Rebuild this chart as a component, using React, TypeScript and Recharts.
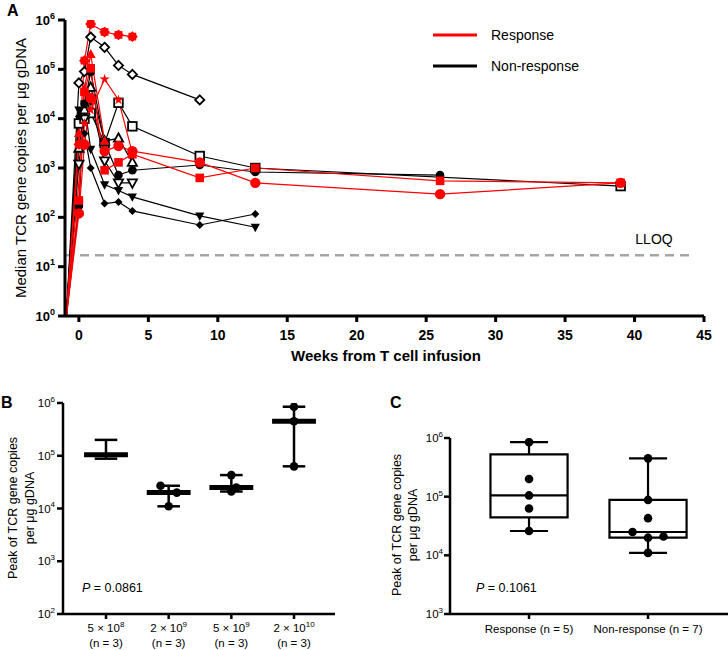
import React from 'react';
import {
  LineChart,
  Line,
  XAxis,
  YAxis,
  ReferenceLine,
  ReferenceArea,
  ScatterChart,
  Scatter,
} from 'recharts';

// ---- Panel A: median TCR copies over time ----
const weeks = [-0.9, 0, 0.4, 0.85, 1.85, 2.85, 3.85, 8.7, 12.7, 26, 39];

const respOctagon = [1, 3000, 150000, 830000, 570000, 500000, 460000, null, null, null, null];
const respTriangle = [1, 5000, 40000, 200000, 3500, null, null, null, null, null, null];
const respSquare = [1, 220, 35000, 105000, 900, 1300, 1900, 630, 1000, 550, 500];
const respStar = [1, null, 8000, 15000, 63000, 24000, 2000, null, null, null, null];
const respCircle = [1, 120, 3000, 26000, 2200, 2800, 2200, 1300, 500, 295, 500];

const nonDiamondOpen = [1, 53000, 90000, 450000, 280000, 120000, 79000, 24000, null, null, null];
const nonSquareOpen = [1, 8000, 10000, 13000, 3200, 21000, 7000, 1750, 1000, null, 430];
const nonCircle = [1, 170, 20000, 88000, 3200, 720, 900, 1150, 830, 720, null];
const nonTriUpOpen = [1, 2500, 15000, 43000, 3500, 4000, 1300, null, null, null, null];
const nonTriDownOpen = [1, 1200, 10000, 25000, 1400, 500, 500, null, null, null, null];
const nonTriDown = [1, 15000, 20000, 2400, 460, 350, 260, 107, 63, null, null];
const nonDiamond = [1, 11000, 5000, 1000, 190, 205, 135, 70, 117, null, null];

const weekTicks = [0, 5, 10, 15, 20, 25, 30, 35, 40, 45];
const logTicksA = [1, 10, 100, 1000, 10000, 100000, 1000000];
const lloq = 17;

// ---- Panel B: peak by dose ----
const doseCoefs = ['5', '2', '5', '2'];
const doseExps = ['8', '9', '9', '10'];
const doseN = [3, 3, 3, 3];
const dosePeaks = [
  [200000, 105000, 88000],
  [27000, 20000, 11000],
  [43000, 25000, 21000],
  [850000, 450000, 63000],
];
const logTicksB = [100, 1000, 10000, 100000, 1000000];

// ---- Panel C: peak by response ----
const responseGroups = ['Response (n = 5)', 'Non-response (n = 7)'];
const responsePeaks = [
  [850000, 200000, 105000, 63000, 26000],
  [450000, 88000, 43000, 25000, 21000, 20000, 11000],
];
const logTicksC = [1000, 10000, 100000, 1000000];

const RED = '#ff0000';
const FONT = "'Liberation Sans', Arial, Helvetica, sans-serif";

const seriesA = [
  { key: 'nonDiamondOpen', values: nonDiamondOpen, color: '#000', marker: 'diamondOpen' },
  { key: 'nonSquareOpen', values: nonSquareOpen, color: '#000', marker: 'squareOpen' },
  { key: 'nonCircle', values: nonCircle, color: '#000', marker: 'circle' },
  { key: 'nonTriUpOpen', values: nonTriUpOpen, color: '#000', marker: 'triUpOpen' },
  { key: 'nonTriDownOpen', values: nonTriDownOpen, color: '#000', marker: 'triDownOpen' },
  { key: 'nonTriDown', values: nonTriDown, color: '#000', marker: 'triDown' },
  { key: 'nonDiamond', values: nonDiamond, color: '#000', marker: 'diamond' },
  { key: 'respOctagon', values: respOctagon, color: RED, marker: 'octagon' },
  { key: 'respTriangle', values: respTriangle, color: RED, marker: 'triUp' },
  { key: 'respSquare', values: respSquare, color: RED, marker: 'square' },
  { key: 'respStar', values: respStar, color: RED, marker: 'star' },
  { key: 'respCircle', values: respCircle, color: RED, marker: 'bigCircle' },
];

const rowsA = weeks.map((w, i) => {
  const row: any = { week: w };
  seriesA.forEach((s) => {
    row[s.key] = s.values[i];
  });
  return row;
});

const starPoints = (cx: number, cy: number, n: number, ro: number, ri: number) => {
  const pts: string[] = [];
  for (let i = 0; i < n * 2; i++) {
    const r = i % 2 === 0 ? ro : ri;
    const a = (Math.PI * i) / n - Math.PI / 2;
    pts.push(`${cx + r * Math.cos(a)},${cy + r * Math.sin(a)}`);
  }
  return pts.join(' ');
};

const renderMarker = (p: any, kind: string, color: string, id: string) => {
  const { cx, cy, value, index } = p;
  const key = `${id}-${index}`;
  if (cx == null || cy == null || value == null || index === 0) return <g key={key} />;
  const open = { fill: '#fff', stroke: color, strokeWidth: 1.8 };
  const solid = { fill: color, stroke: 'none' };
  switch (kind) {
    case 'circle':
      return <circle key={key} cx={cx} cy={cy} r={4.3} {...solid} />;
    case 'bigCircle':
      return <circle key={key} cx={cx} cy={cy} r={5.2} {...solid} />;
    case 'square':
      return <rect key={key} x={cx - 4.3} y={cy - 4.3} width={8.6} height={8.6} {...solid} />;
    case 'squareOpen':
      return <rect key={key} x={cx - 4.3} y={cy - 4.3} width={8.6} height={8.6} {...open} />;
    case 'triUp':
      return <polygon key={key} points={`${cx},${cy - 5.5} ${cx + 5},${cy + 3.5} ${cx - 5},${cy + 3.5}`} {...solid} />;
    case 'triUpOpen':
      return <polygon key={key} points={`${cx},${cy - 5} ${cx + 4.6},${cy + 3.4} ${cx - 4.6},${cy + 3.4}`} {...open} />;
    case 'triDown':
      return <polygon key={key} points={`${cx},${cy + 5} ${cx + 4.6},${cy - 3.4} ${cx - 4.6},${cy - 3.4}`} {...solid} />;
    case 'triDownOpen':
      return <polygon key={key} points={`${cx},${cy + 5} ${cx + 4.6},${cy - 3.4} ${cx - 4.6},${cy - 3.4}`} {...open} />;
    case 'diamond':
      return <polygon key={key} points={`${cx},${cy - 4} ${cx + 4},${cy} ${cx},${cy + 4} ${cx - 4},${cy}`} {...solid} />;
    case 'diamondOpen':
      return <polygon key={key} points={`${cx},${cy - 4.6} ${cx + 4.6},${cy} ${cx},${cy + 4.6} ${cx - 4.6},${cy}`} {...open} />;
    case 'star':
      return <polygon key={key} points={starPoints(cx, cy, 5, 5.5, 2)} {...solid} />;
    case 'octagon':
    default:
      return <polygon key={key} points={starPoints(cx, cy, 8, 5.4, 4.3)} {...solid} />;
  }
};

const PowerTick = (props: any) => {
  const { x, y, payload, fs, sup, weight } = props;
  const exp = Math.round(Math.log10(payload.value));
  return (
    <text x={x} y={y} dy={fs * 0.36} textAnchor="end" fontSize={fs} fontWeight={weight} fill="#000" fontFamily={FONT}>
      10<tspan dy={-fs * 0.45} fontSize={sup}>{exp}</tspan>
    </text>
  );
};

const DoseTick = (props: any) => {
  const { x, y, payload } = props;
  const i = Math.round(payload.value) - 1;
  return (
    <g>
      <text x={x} y={y + 11} textAnchor="middle" fontSize={11.5} fill="#000" fontFamily={FONT}>
        {doseCoefs[i]} × 10<tspan dy={-5} fontSize={8}>{doseExps[i]}</tspan>
      </text>
      <text x={x} y={y + 26} textAnchor="middle" fontSize={11.5} fill="#000" fontFamily={FONT}>
        (n = {doseN[i]})
      </text>
    </g>
  );
};

const GroupTick = (props: any) => {
  const { x, y, payload } = props;
  const i = Math.round(payload.value) - 1;
  return (
    <text x={x} y={y + 12} textAnchor="middle" fontSize={11.5} fill="#000" fontFamily={FONT}>
      {responseGroups[i]}
    </text>
  );
};

const sorted = (a: number[]) => [...a].sort((p, q) => p - q);
const quantile = (a: number[], p: number) => {
  const s = sorted(a);
  const pos = (s.length + 1) * p - 1;
  const lo = Math.max(0, Math.min(s.length - 1, Math.floor(pos)));
  const hi = Math.max(0, Math.min(s.length - 1, Math.ceil(pos)));
  return s[lo] + (s[hi] - s[lo]) * (pos - Math.floor(pos));
};

// jitter offsets (x units) for overlapping dots
const doseJitter = [
  [0, 0, 0],
  [-0.13, 0.13, 0],
  [0, 0.08, 0],
  [0, 0, 0],
];
const responseJitter = [
  [0, 0, 0, 0, 0],
  [0, 0, 0, -0.13, 0.13, 0, 0],
];

const dotsB = dosePeaks.flatMap((vals, g) =>
  g === 0 ? [] : vals.map((v, j) => ({ x: g + 1 + doseJitter[g][j], y: v }))
);
const dotsC = responsePeaks.flatMap((vals, g) =>
  vals.map((v, j) => ({ x: g + 1 + responseJitter[g][j], y: v }))
);

const axisStyle = { stroke: '#000', strokeWidth: 2.5 };

export default function App() {
  return (
    <div
      style={{
        position: 'absolute',
        left: 0,
        top: 0,
        width: 728,
        height: 650,
        overflow: 'hidden',
        background: '#fff',
        fontFamily: FONT,
      }}
    >
      {/* Panel A */}
      <div style={{ position: 'absolute', left: 0, top: 0 }}>
        <LineChart width={728} height={350} data={rowsA} margin={{ top: 20, right: 24, bottom: 0, left: 0 }}>
          <XAxis
            dataKey="week"
            type="number"
            domain={[-1, 45]}
            ticks={weekTicks}
            allowDataOverflow
            height={34}
            axisLine={{ stroke: '#000', strokeWidth: 3 }}
            tickLine={{ stroke: '#000', strokeWidth: 3 }}
            tickSize={6}
            tickMargin={8}
            tick={{ fontSize: 14, fontWeight: 'bold', fill: '#000' }}
          />
          <YAxis
            type="number"
            scale="log"
            domain={[1, 1000000]}
            ticks={logTicksA}
            allowDataOverflow
            width={65}
            axisLine={{ stroke: '#000', strokeWidth: 3 }}
            tickLine={{ stroke: '#000', strokeWidth: 3 }}
            tickSize={7}
            tickMargin={3}
            tick={(p: any) => <PowerTick {...p} fs={13} sup={9} weight="bold" />}
          />
          <ReferenceLine
            segment={[
              { x: -1, y: lloq },
              { x: 44, y: lloq },
            ]}
            stroke="#a6a6a6"
            strokeWidth={2.5}
            strokeDasharray="9 6"
          />
          {seriesA.map((s) => (
            <Line
              key={s.key}
              dataKey={s.key}
              type="linear"
              stroke={s.color}
              strokeWidth={1.2}
              connectNulls
              isAnimationActive={false}
              activeDot={false}
              dot={(p: any) => renderMarker(p, s.marker, s.color, s.key)}
            />
          ))}
        </LineChart>
      </div>

      {/* Panel B */}
      <div style={{ position: 'absolute', left: 0, top: 380 }}>
        <ScatterChart width={345} height={280} margin={{ top: 23, right: 10, bottom: 0, left: 0 }}>
          <XAxis
            dataKey="x"
            type="number"
            domain={[0.314, 4.654]}
            ticks={[1, 2, 3, 4]}
            allowDataOverflow
            height={46}
            axisLine={axisStyle}
            tickLine={axisStyle}
            tickSize={5}
            tickMargin={2}
            tick={(p: any) => <DoseTick {...p} />}
          />
          <YAxis
            dataKey="y"
            type="number"
            scale="log"
            domain={[100, 1000000]}
            ticks={logTicksB}
            allowDataOverflow
            width={63}
            axisLine={axisStyle}
            tickLine={axisStyle}
            tickSize={6}
            tickMargin={2}
            tick={(p: any) => <PowerTick {...p} fs={11.5} sup={8} weight="normal" />}
          />
          {dosePeaks.map((vals, g) => {
            const c = g + 1;
            const lo = Math.min(...vals);
            const hi = Math.max(...vals);
            const med = quantile(vals, 0.5);
            return (
              <React.Fragment key={`b${g}`}>
                <ReferenceLine segment={[{ x: c, y: lo }, { x: c, y: hi }]} stroke="#000" strokeWidth={2.5} />
                <ReferenceLine segment={[{ x: c - 0.18, y: hi }, { x: c + 0.18, y: hi }]} stroke="#000" strokeWidth={2.5} />
                <ReferenceLine segment={[{ x: c - 0.18, y: lo }, { x: c + 0.18, y: lo }]} stroke="#000" strokeWidth={2.5} />
                <ReferenceLine segment={[{ x: c - 0.35, y: med }, { x: c + 0.35, y: med }]} stroke="#000" strokeWidth={5} />
              </React.Fragment>
            );
          })}
          <Scatter
            data={dotsB}
            fill="#000"
            isAnimationActive={false}
            shape={(p: any) => <circle cx={p.cx} cy={p.cy} r={4.3} fill="#000" />}
          />
        </ScatterChart>
      </div>

      {/* Panel C */}
      <div style={{ position: 'absolute', left: 360, top: 380 }}>
        <ScatterChart width={368} height={280} margin={{ top: 58, right: 0, bottom: 0, left: 0 }}>
          <XAxis
            dataKey="x"
            type="number"
            domain={[0.336, 2.672]}
            ticks={[1, 2]}
            allowDataOverflow
            height={46}
            axisLine={axisStyle}
            tickLine={axisStyle}
            tickSize={5}
            tickMargin={2}
            tick={(p: any) => <GroupTick {...p} />}
          />
          <YAxis
            dataKey="y"
            type="number"
            scale="log"
            domain={[1000, 1000000]}
            ticks={logTicksC}
            allowDataOverflow
            width={90}
            axisLine={axisStyle}
            tickLine={axisStyle}
            tickSize={6}
            tickMargin={1}
            tick={(p: any) => <PowerTick {...p} fs={11.5} sup={8} weight="normal" />}
          />
          {responsePeaks.map((vals, g) => {
            const c = g + 1;
            const lo = Math.min(...vals);
            const hi = Math.max(...vals);
            const q1 = quantile(vals, 0.25);
            const q3 = quantile(vals, 0.75);
            const med = quantile(vals, 0.5);
            return (
              <React.Fragment key={`c${g}`}>
                <ReferenceLine segment={[{ x: c, y: q3 }, { x: c, y: hi }]} stroke="#000" strokeWidth={2.2} />
                <ReferenceLine segment={[{ x: c, y: lo }, { x: c, y: q1 }]} stroke="#000" strokeWidth={2.2} />
                <ReferenceLine segment={[{ x: c - 0.16, y: hi }, { x: c + 0.16, y: hi }]} stroke="#000" strokeWidth={2.2} />
                <ReferenceLine segment={[{ x: c - 0.16, y: lo }, { x: c + 0.16, y: lo }]} stroke="#000" strokeWidth={2.2} />
                <ReferenceArea x1={c - 0.324} x2={c + 0.324} y1={q1} y2={q3} fill="#fff" fillOpacity={1} stroke="#000" strokeWidth={2.2} />
                <ReferenceLine segment={[{ x: c - 0.324, y: med }, { x: c + 0.324, y: med }]} stroke="#000" strokeWidth={2.2} />
              </React.Fragment>
            );
          })}
          <Scatter
            data={dotsC}
            fill="#000"
            isAnimationActive={false}
            shape={(p: any) => <circle cx={p.cx} cy={p.cy} r={4.3} fill="#000" />}
          />
        </ScatterChart>
      </div>

      {/* titles, legend and annotations */}
      <svg
        width={728}
        height={650}
        style={{ position: 'absolute', left: 0, top: 0, pointerEvents: 'none' }}
        fontFamily={FONT}
      >
        <text x={7} y={16} fontSize={16} fontWeight="bold">A</text>
        <text x={1} y={408} fontSize={16} fontWeight="bold">B</text>
        <text x={390} y={408} fontSize={16} fontWeight="bold">C</text>

        <text x={26} y={168} fontSize={15} textAnchor="middle" transform="rotate(-90 26 168)">
          Median TCR gene copies per μg gDNA
        </text>
        <text x={386} y={361} fontSize={15} fontWeight="bold" textAnchor="middle">
          Weeks from T cell infusion
        </text>

        <line x1={433} x2={477} y1={35} y2={35} stroke={RED} strokeWidth={3} />
        <text x={491} y={40} fontSize={14}>Response</text>
        <line x1={433} x2={477} y1={66} y2={66} stroke="#000" strokeWidth={3} />
        <text x={491} y={71} fontSize={14}>Non-response</text>

        <text x={654} y={244} fontSize={14} textAnchor="middle">LLOQ</text>

        <g transform="rotate(-90 17 508)">
          <text x={17} y={508} fontSize={12.5} textAnchor="middle">Peak of TCR gene copies</text>
        </g>
        <g transform="rotate(-90 34 508)">
          <text x={34} y={508} fontSize={12.5} textAnchor="middle">per μg gDNA</text>
        </g>
        <text x={82} y={592} fontSize={12.5}>
          <tspan fontStyle="italic">P</tspan> = 0.0861
        </text>

        <g transform="rotate(-90 401 525)">
          <text x={401} y={525} fontSize={12.5} textAnchor="middle">Peak of TCR gene copies</text>
        </g>
        <g transform="rotate(-90 417 525)">
          <text x={417} y={525} fontSize={12.5} textAnchor="middle">per μg gDNA</text>
        </g>
        <text x={476} y={592} fontSize={12.5}>
          <tspan fontStyle="italic">P</tspan> = 0.1061
        </text>
      </svg>
    </div>
  );
}
